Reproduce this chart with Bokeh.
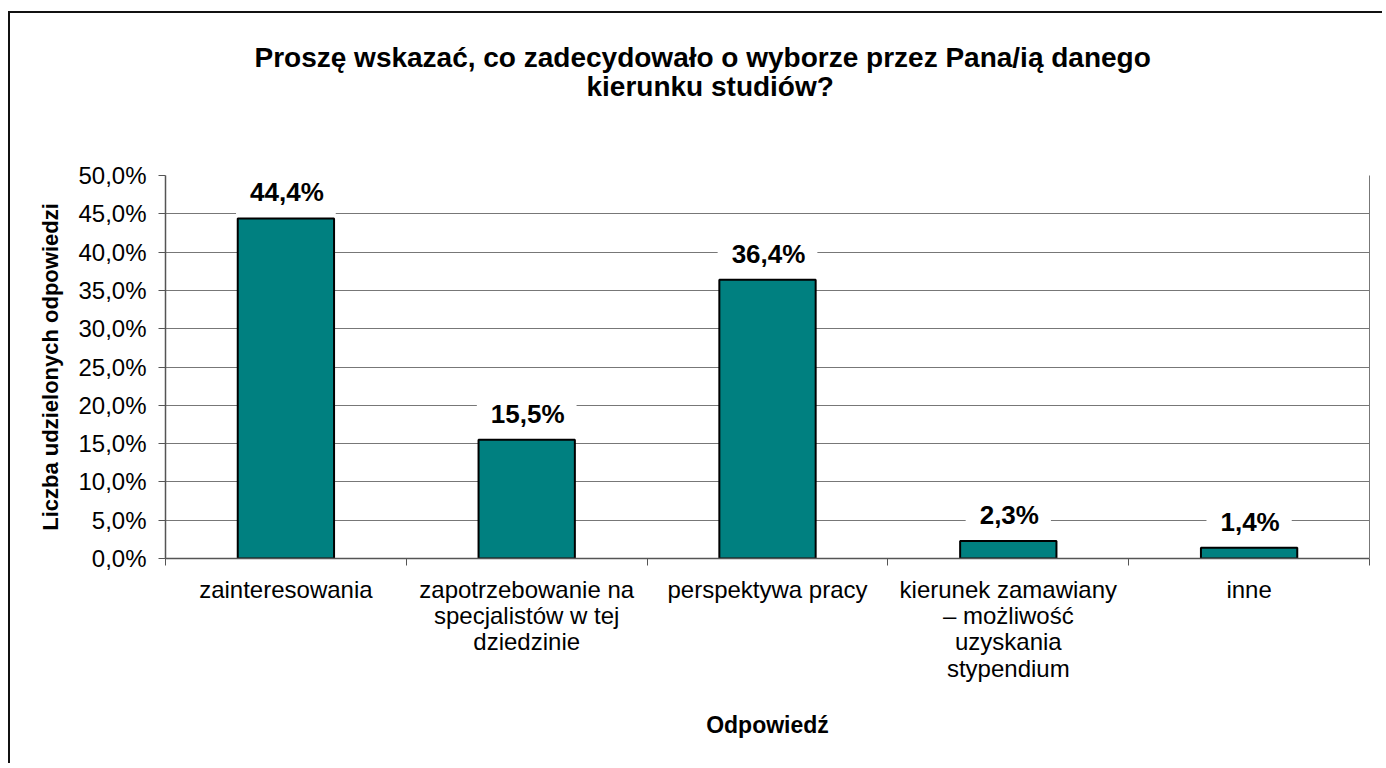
from bokeh.plotting import figure
from bokeh.models import FixedTicker, Title, LinearAxis, ColumnDataSource
from bokeh.core.properties import value
from bokeh.embed import file_html
from bokeh.resources import INLINE

# ---- data ----
categories = [
    "zainteresowania",
    "zapotrzebowanie na\nspecjalistów w tej\ndziedzinie",
    "perspektywa pracy",
    "kierunek zamawiany\n– możliwość\nuzyskania\nstypendium",
    "inne",
]
shares = [44.4, 15.5, 36.4, 2.3, 1.4]
share_labels = ["44,4%", "15,5%", "36,4%", "2,3%", "1,4%"]
y_ticks = [0, 5, 10, 15, 20, 25, 30, 35, 40, 45, 50]
title_lines = ["Proszę wskazać, co zadecydowało o wyborze przez Pana/ią danego",
               "kierunku studiów?"]
y_title = "Liczba udzielonych odpowiedzi"
x_title = "Odpowiedź"

FONT = "Liberation Sans"
TEAL = "#008080"
GRID = "#777777"
AXIS = "#555555"

n = len(categories)
xs = [i + 0.5 for i in range(n)]
src = ColumnDataSource(dict(x=xs, top=shares, lab=share_labels))

p = figure(
    width=1374, height=752,
    x_range=(0, n), y_range=(0, 50),
    output_backend="svg", toolbar_location=None,
    min_border_left=155, min_border_right=15,
    min_border_top=162, min_border_bottom=207,
    background_fill_color="white", border_fill_color="white",
)
p.outline_line_color = None
p.styles = {"border-left": "2px solid #111", "border-top": "2px solid #111",
            "margin-top": "11px", "margin-left": "8px"}

# value labels (white boxes interrupt the grid lines)
p.text(x="x", y="top", text="lab", source=src, text_align="center",
       text_baseline="middle", y_offset=-27,
       text_font=value(FONT), text_font_style="bold", text_font_size="26px",
       text_color="black", background_fill_color="white",
       padding=[14, 12, 14, 12])

# bars (drawn after the labels so their outlines stay visible)
p.vbar(x="x", top="top", width=0.4, source=src, fill_color=TEAL,
       line_color="black", line_width=2)

# y axis
yax = p.yaxis[0]
yax.ticker = FixedTicker(ticks=y_ticks)
yax.major_label_overrides = {t: f"{t:.1f}".replace(".", ",") + "%" for t in y_ticks}
yax.major_label_text_font = FONT
yax.major_label_text_font_size = "24px"
yax.major_label_text_color = "black"
yax.major_tick_out = 7
yax.major_tick_in = 0
yax.minor_tick_out = 0
yax.minor_tick_in = 0
yax.major_label_standoff = 12
yax.axis_line_color = AXIS
yax.major_tick_line_color = AXIS
yax.axis_line_width = 1.5
yax.axis_label = y_title
yax.axis_label_text_font = FONT
yax.axis_label_text_font_style = "bold"
yax.axis_label_text_font_size = "22px"
yax.axis_label_text_color = "black"
yax.axis_label_standoff = 12

# x axis
xax = p.xaxis[0]
xax.ticker = FixedTicker(ticks=xs, minor_ticks=list(range(n + 1)))
xax.major_label_overrides = {x: c for x, c in zip(xs, categories)}
xax.major_label_text_font = FONT
xax.major_label_text_font_size = "24px"
xax.major_label_text_color = "black"
xax.major_label_text_line_height = 0.98
xax.major_tick_out = 0
xax.major_tick_in = 0
xax.minor_tick_out = 7
xax.minor_tick_in = 0
xax.minor_tick_line_color = AXIS
xax.axis_line_color = AXIS
xax.axis_line_width = 1.5
xax.major_label_standoff = 10
xax.axis_label = x_title
xax.axis_label_text_font = FONT
xax.axis_label_text_font_style = "bold"
xax.axis_label_text_font_size = "23px"
xax.axis_label_text_color = "black"
xax.axis_label_standoff = 27

# right border of plot area
rax = LinearAxis(ticker=FixedTicker(ticks=[]), axis_line_color=GRID,
                 major_tick_out=0, major_tick_in=0, minor_tick_out=0, minor_tick_in=0,
                 major_label_standoff=0)
p.add_layout(rax, "right")

# grid
p.xgrid.visible = False
p.ygrid.ticker = FixedTicker(ticks=y_ticks)
p.ygrid.grid_line_color = GRID
p.ygrid.grid_line_width = 1

# title: spacer, then second line, then first line (stacked outward)
p.add_layout(Title(text=" ", text_font_size="1px", standoff=71), "above")
offsets = [89, 421]
standoffs = [-8, 0]
for line, off, so in reversed(list(zip(title_lines, offsets, standoffs))):
    p.add_layout(Title(text=line, align="left", offset=off, standoff=so,
                       text_font=FONT, text_font_style="bold",
                       text_font_size="28px", text_color="black"), "above")

open("out.html", "w").write(file_html(p, INLINE))
